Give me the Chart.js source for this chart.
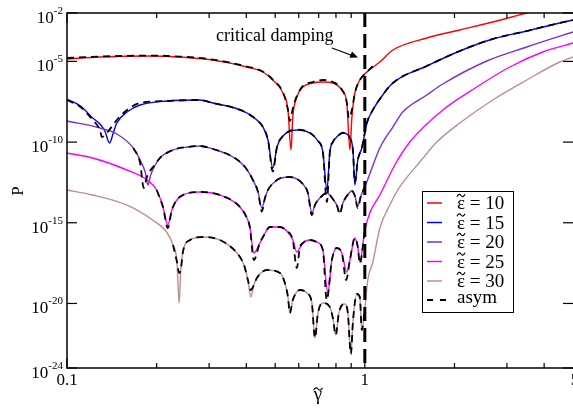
<!DOCTYPE html>
<html><head><meta charset="utf-8">
<script src="https://cdn.jsdelivr.net/npm/chart.js@4"></script>
<style>html,body{margin:0;padding:0;background:#fff;overflow:hidden}#wrap{width:573px;height:414px}</style>
</head><body><div id="wrap"><canvas id="c" width="573" height="414"></canvas></div>
<script>
// ---- tick definitions ----
const X_LABEL_VALUES = [0.1, 1, 5];
const X_LABELS = ['0.1', '1', '5'];
const X_MAJOR = [0.1, 1];
const X_MINOR = [0.2, 0.3, 0.4, 0.5, 0.6, 0.7, 0.8, 0.9, 2, 3, 4];
const Y_TICKS = [1e-2, 1e-5, 1e-10, 1e-15, 1e-20, 1e-24];
const Y_EXP = ['-2', '-5', '-10', '-15', '-20', '-24'];
const LEGEND_SYM = ['\u03b5', '\u03b5', '\u03b5', '\u03b5', '\u03b5', ''];
const LEGEND_LABELS = [' = 10', ' = 15', ' = 20', ' = 25', ' = 30', 'asym'];

// ---- eps = 10 ----
const E10_X = [0.1, 0.129, 0.190, 0.239, 0.309, 0.402, 0.455, 0.491, 0.531, 0.552, 0.565, 0.573, 0.591, 0.619, 0.669, 0.723, 0.781, 0.837, 0.870, 0.891, 0.905, 0.926, 0.962, 1.016, 1.123, 1.242, 1.615, 2.084, 2.689, 3.497, 4.511];
const E10_P = [1.41e-5, 1.87e-5, 2.16e-5, 1.87e-5, 1.22e-5, 4.5e-6, 2.21e-6, 7.05e-7, 1.1e-7, 9.74e-9, 3.24e-11, 3.59e-9, 6.22e-8, 2.6e-7, 4.59e-7, 5.3e-7, 4.59e-7, 1.69e-7, 2.64e-8, 3.24e-11, 3.59e-9, 1.1e-7, 7.05e-7, 2.21e-6, 9.18e-6, 5.09e-5, 2.82e-4, 8.83e-4, 2.77e-3, 1e-2, 3.13e-2];
const A10_X = [0.1, 0.129, 0.190, 0.239, 0.309, 0.402, 0.455, 0.491, 0.531, 0.552, 0.560, 0.573, 0.591, 0.619, 0.669, 0.723, 0.781, 0.837, 0.870, 0.884, 0.905, 0.926, 0.962, 1.016, 1.064];
const A10_P = [1.63e-5, 2.0e-5, 2.3e-5, 2.0e-5, 1.3e-5, 4.8e-6, 2.3e-6, 7.5e-7, 1.2e-7, 1.0e-8, 2.0e-9, 1.2e-8, 7.0e-8, 2.9e-7, 5.3e-7, 7.05e-7, 5.3e-7, 1.8e-7, 2.8e-8, 3.0e-9, 1.0e-8, 1.1e-7, 7.05e-7, 2.21e-6, 5e-6];

// ---- eps = 15 ----
const E15_X = [0.1, 0.111, 0.122, 0.129, 0.134, 0.139, 0.143, 0.147, 0.159, 0.176, 0.217, 0.279, 0.309, 0.366, 0.402, 0.434, 0.455, 0.473, 0.491, 0.507, 0.531, 0.591, 0.654, 0.696, 0.723, 0.746, 0.763, 0.781, 0.805, 0.844, 0.891, 0.912, 0.926, 0.947, 0.977, 1.016, 1.064, 1.123, 1.242, 1.615, 2.084, 2.689, 3.497, 4.511, 5.0];
const E15_P = [4.68e-8, 1.72e-8, 3.11e-9, 1.32e-9, 4.86e-10, 8.78e-11, 3.66e-10, 1.52e-9, 7.32e-9, 1.99e-8, 3.52e-8, 4.06e-8, 2.64e-8, 1.29e-8, 6.35e-9, 2.34e-9, 8.61e-10, 1.35e-10, 2.48e-12, 4.96e-11, 2.38e-10, 5.61e-10, 3.66e-10, 1.17e-10, 2.43e-11, 1.07e-13, 2.43e-11, 1.01e-10, 2.07e-10, 3.66e-10, 1.79e-10, 3.24e-11, 2.19e-13, 7.76e-12, 4.30e-11, 1.52e-9, 9.74e-9, 4.68e-8, 4.59e-7, 5.19e-6, 4.42e-5, 2.45e-4, 7.66e-4, 2.40e-3, 3.68e-3];
const A15_X = [0.1, 0.111, 0.122, 0.129, 0.131, 0.136, 0.147, 0.159, 0.176, 0.217, 0.279, 0.309, 0.366, 0.402, 0.434, 0.455, 0.473, 0.491, 0.507, 0.531, 0.591, 0.654, 0.696, 0.723, 0.746, 0.763, 0.781, 0.805, 0.844, 0.891, 0.912, 0.926, 0.947, 0.977, 1.016, 1.064, 1.123, 1.242, 1.615, 2.084, 2.689, 3.497, 4.511, 5.0];
const A15_P = [4.06e-8, 1.5e-8, 2.34e-9, 5.61e-10, 2.07e-10, 3.66e-10, 2.34e-9, 9.74e-9, 2.64e-8, 3.52e-8, 4.06e-8, 2.64e-8, 1.29e-8, 6.35e-9, 2.34e-9, 8.61e-10, 1.35e-10, 1.5e-12, 4.96e-11, 2.38e-10, 6e-10, 3.8e-10, 1.17e-10, 2.43e-11, 1.94e-14, 2.43e-11, 1.01e-10, 2.07e-10, 3.8e-10, 1.79e-10, 3.24e-11, 3e-13, 7.76e-12, 4.30e-11, 1.52e-9, 9.74e-9, 4.68e-8, 4.59e-7, 5.19e-6, 4.42e-5, 2.45e-4, 7.66e-4, 2.40e-3, 3.68e-3];

// ---- eps = 20 ----
const E20_X = [0.1, 0.129, 0.147, 0.167, 0.176, 0.183, 0.187, 0.191, 0.197, 0.205, 0.227, 0.253, 0.279, 0.309, 0.361, 0.396, 0.421, 0.438, 0.451, 0.462, 0.473, 0.507, 0.560, 0.619, 0.644, 0.664, 0.680, 0.706, 0.746, 0.781, 0.805, 0.824, 0.844, 0.870, 0.905, 0.926, 0.947, 0.970, 1.0, 1.039, 1.123, 1.242, 1.341, 1.615, 1.827, 2.567, 3.497, 5.0];
const E20_P = [2.03e-9, 7.46e-10, 3.17e-10, 4.30e-11, 7.76e-12, 1.40e-12, 2.19e-13, 9.12e-13, 3.30e-12, 1.03e-11, 3.24e-11, 4.96e-11, 5.73e-11, 3.73e-11, 1.19e-11, 2.86e-12, 4.47e-13, 8.07e-14, 8.22e-15, 3.43e-14, 1.07e-13, 4.47e-13, 6.86e-13, 2.53e-13, 7.00e-14, 4.03e-15, 1.26e-14, 3.43e-14, 7.00e-14, 2.97e-14, 1.26e-14, 4.65e-15, 1.68e-14, 4.56e-14, 9.31e-14, 4.56e-14, 1.09e-14, 4.56e-14, 1.65e-13, 1.05e-12, 4.30e-11, 8.61e-10, 7.32e-9, 8.28e-8, 3.98e-7, 1.06e-5, 7.82e-5, 6.65e-4];
const A20_X = [0.167, 0.176, 0.181, 0.185, 0.191, 0.197, 0.205, 0.227, 0.253, 0.279, 0.309, 0.361, 0.396, 0.421, 0.438, 0.451, 0.462, 0.473, 0.507, 0.560, 0.619, 0.644, 0.664, 0.680, 0.706, 0.746, 0.781, 0.805, 0.824, 0.844, 0.870, 0.905, 0.926, 0.947, 0.970, 1.0];
const A20_P = [4.3e-11, 5.06e-12, 1.43e-13, 5.94e-13, 1.86e-12, 3.8e-12, 1.03e-11, 3.24e-11, 4.96e-11, 5.73e-11, 3.73e-11, 1.19e-11, 2.86e-12, 4.47e-13, 8.07e-14, 5e-15, 3.43e-14, 1.07e-13, 4.47e-13, 6.86e-13, 2.53e-13, 7.0e-14, 3e-15, 1.26e-14, 3.43e-14, 7.0e-14, 2.97e-14, 1.26e-14, 3.5e-15, 1.68e-14, 4.56e-14, 9.31e-14, 4.56e-14, 8e-15, 4.56e-14, 1.65e-13];

// ---- eps = 25 ----
const E25_X = [0.1, 0.122, 0.159, 0.186, 0.200, 0.210, 0.218, 0.225, 0.239, 0.279, 0.326, 0.381, 0.402, 0.411, 0.424, 0.444, 0.455, 0.480, 0.519, 0.547, 0.573, 0.591, 0.605, 0.619, 0.654, 0.690, 0.723, 0.751, 0.775, 0.805, 0.837, 0.870, 0.891, 0.926, 0.947, 0.962, 1.0, 1.039, 1.123, 1.261, 1.416, 1.827, 2.376, 3.067, 3.956, 5.0];
const E25_P = [2.11e-11, 1.03e-11, 1.86e-12, 4.47e-13, 1.07e-13, 9.48e-15, 7.27e-16, 6.18e-15, 3.95e-14, 8.07e-14, 5.26e-14, 9.48e-15, 1.97e-15, 5.47e-16, 1.34e-17, 5.57e-17, 1.31e-16, 5.47e-16, 5.47e-16, 3.09e-16, 8.55e-17, 1.54e-17, 2.73e-17, 5.57e-17, 8.55e-17, 6.43e-17, 2.05e-17, 4.45e-20, 4.93e-18, 2.73e-17, 1.34e-17, 8.89e-19, 4.93e-18, 1.14e-16, 3.15e-17, 3.71e-18, 3.56e-16, 4.03e-15, 5.26e-14, 3.8e-12, 1.01e-10, 9.74e-9, 2.6e-7, 4.5e-6, 3.83e-5, 1.38e-4];
const A25_X = [0.200, 0.210, 0.218, 0.225, 0.239, 0.279, 0.326, 0.381, 0.402, 0.411, 0.424, 0.444, 0.455, 0.480, 0.519, 0.547, 0.573, 0.591, 0.605, 0.619, 0.654, 0.690, 0.723, 0.745, 0.775, 0.805, 0.837, 0.866, 0.891, 0.926, 0.947, 0.962, 1.0];
const A25_P = [1.07e-13, 9.48e-15, 4.74e-16, 6.18e-15, 3.95e-14, 8.07e-14, 5.26e-14, 9.48e-15, 1.97e-15, 5.47e-16, 4.93e-18, 5.57e-17, 1.31e-16, 5.47e-16, 5.47e-16, 3.09e-16, 8.55e-17, 1.57e-18, 2.73e-17, 5.57e-17, 8.55e-17, 6.43e-17, 2.05e-17, 1.64e-20, 4.93e-18, 2.73e-17, 1.34e-17, 2.84e-19, 4.93e-18, 1.14e-16, 3.15e-17, 3.0e-18, 3.56e-16];

// ---- eps = 30 ----
const E30_X = [0.1, 0.122, 0.159, 0.194, 0.217, 0.227, 0.234, 0.238, 0.241, 0.245, 0.259, 0.286, 0.326, 0.372, 0.393, 0.405, 0.414, 0.424, 0.434, 0.469, 0.519, 0.539, 0.552, 0.560, 0.573, 0.605, 0.639, 0.664, 0.680, 0.696, 0.723, 0.763, 0.781, 0.799, 0.818, 0.857, 0.877, 0.898, 0.912, 0.940, 0.962, 0.977, 1.0, 1.023, 1.064, 1.123, 1.213, 1.310, 1.530, 1.744, 2.084, 2.689, 3.497, 4.511, 5.0];
const E30_P = [1.07e-13, 5.26e-14, 1.26e-14, 1.48e-15, 2.32e-16, 4.19e-17, 3.71e-18, 1.07e-20, 1.18e-18, 1.54e-17, 8.55e-17, 1.31e-16, 8.55e-17, 1.34e-17, 2.42e-18, 2.84e-19, 2.51e-20, 1.39e-19, 3.78e-19, 1.18e-18, 7.71e-19, 1.85e-19, 2.51e-20, 2.56e-21, 1.64e-20, 6.82e-20, 4.45e-20, 1.07e-20, 7.23e-23, 2.56e-21, 1.07e-20, 6.03e-21, 1.25e-21, 1.11e-22, 2.56e-21, 9.25e-21, 2.56e-21, 7.36e-24, 7.08e-22, 3.85e-20, 2.51e-20, 2.26e-22, 3.93e-21, 2.84e-19, 3.71e-18, 4.74e-16, 1.26e-14, 1.65e-13, 5.83e-12, 1.01e-10, 1.52e-9, 4.06e-8, 7.05e-7, 9.18e-6, 1.87e-5];
const A30_X = [0.227, 0.234, 0.238, 0.241, 0.245, 0.259, 0.286, 0.326, 0.372, 0.393, 0.405, 0.414, 0.424, 0.434, 0.469, 0.519, 0.539, 0.552, 0.560, 0.573, 0.605, 0.639, 0.664, 0.680, 0.696, 0.723, 0.763, 0.781, 0.799, 0.818, 0.857, 0.877, 0.898, 0.912, 0.940, 0.962, 0.977, 1.0];
const A30_P = [4.19e-17, 3.71e-18, 7.71e-19, 1.18e-18, 1.54e-17, 8.55e-17, 1.31e-16, 8.55e-17, 1.34e-17, 2.42e-18, 2.84e-19, 6.82e-20, 1.39e-19, 3.78e-19, 1.18e-18, 7.71e-19, 1.85e-19, 2.51e-20, 2.56e-21, 1.64e-20, 6.82e-20, 4.45e-20, 1.07e-20, 7.23e-23, 2.56e-21, 1.07e-20, 6.03e-21, 1.25e-21, 1.11e-22, 2.56e-21, 9.25e-21, 2.56e-21, 7.36e-24, 7.08e-22, 3.85e-20, 2.51e-20, 2.26e-22, 3.93e-21];

// ---- critical damping line ----
const CRIT_X = [1, 1];
const CRIT_P = [1e-2, 1e-24];

const COLORS = ['#ff0000', '#0000ff', '#7b2fd0', '#ff00ff', '#bc8f8f'];
const FONT = '"Liberation Serif", "DejaVu Serif", serif';

function pts(xs, ps) { return xs.map((v, i) => ({ x: v, y: ps[i] })); }
function solid(xs, ps, c) { return { data: pts(xs, ps), borderColor: c, borderWidth: 1.4, order: 3, pointRadius: 0, fill: false }; }
function dashed(xs, ps) { return { data: pts(xs, ps), borderColor: '#000', borderWidth: 1.8, borderDash: [7, 5], order: 2, pointRadius: 0, fill: false }; }

const datasets = [
  solid(E30_X, E30_P, COLORS[4]), solid(E25_X, E25_P, COLORS[3]), solid(E20_X, E20_P, COLORS[2]),
  solid(E15_X, E15_P, COLORS[1]), solid(E10_X, E10_P, COLORS[0]),
  dashed(A10_X, A10_P), dashed(A15_X, A15_P), dashed(A20_X, A20_P), dashed(A25_X, A25_P), dashed(A30_X, A30_P),
  { data: pts(CRIT_X, CRIT_P), borderColor: '#000', borderWidth: 3, borderDash: [14, 7], order: 1, pointRadius: 0, cubicInterpolationMode: 'default', tension: 0 }
];

function line(ctx, x1, y1, x2, y2) { ctx.beginPath(); ctx.moveTo(x1, y1); ctx.lineTo(x2, y2); ctx.stroke(); }
function tildeOver(ctx, sym, x, base, size, ty, half) {
  // draws a symbol and a wavy tilde accent centred above it; returns symbol width
  ctx.font = size + 'px ' + FONT;
  const w = ctx.measureText(sym).width;
  ctx.textAlign = 'left';
  ctx.fillText(sym, x, base);
  const cx = x + w / 2;
  ctx.save();
  ctx.strokeStyle = '#000'; ctx.lineWidth = 1.1; ctx.setLineDash([]);
  ctx.beginPath();
  ctx.moveTo(cx - half, ty + 1.2);
  ctx.bezierCurveTo(cx - half * 0.6, ty - 2, cx - half * 0.25, ty - 1.5, cx, ty);
  ctx.bezierCurveTo(cx + half * 0.25, ty + 1.5, cx + half * 0.6, ty + 2, cx + half, ty - 1.2);
  ctx.stroke();
  ctx.restore();
  return w;
}

const frame = {
  id: 'frame',
  afterDatasetsDraw(chart) {
    const { ctx, chartArea: a, scales: { x, y } } = chart;
    ctx.save();
    ctx.strokeStyle = '#000'; ctx.fillStyle = '#000';
    ctx.lineWidth = 1.5;
    line(ctx, a.left, a.top, a.right + 2, a.top);
    line(ctx, a.left, a.top - 0.75, a.left, a.bottom + 0.75);
    line(ctx, a.left, a.bottom, a.right + 2, a.bottom);
    ctx.lineWidth = 1.2;
    X_MAJOR.forEach(v => { const p = x.getPixelForValue(v); line(ctx, p, a.bottom, p, a.bottom - 10); line(ctx, p, a.top, p, a.top + 10); });
    X_MINOR.forEach(v => { const p = x.getPixelForValue(v); line(ctx, p, a.bottom, p, a.bottom - 5); line(ctx, p, a.top, p, a.top + 5); });
    Y_TICKS.forEach(v => { const p = y.getPixelForValue(v); line(ctx, a.left, p, a.left + 10, p); line(ctx, a.right, p, a.right - 10, p); });
    // y labels
    ctx.textAlign = 'right'; ctx.textBaseline = 'alphabetic';
    Y_TICKS.forEach((v, i) => {
      const p = y.getPixelForValue(v);
      ctx.font = '11px ' + FONT;
      ctx.fillText(Y_EXP[i], 63, p + 1);
      const w = ctx.measureText(Y_EXP[i]).width;
      ctx.font = '17px ' + FONT;
      ctx.fillText('10', 63 - w, p + 10);
    });
    // x labels
    ctx.textAlign = 'center'; ctx.font = '17px ' + FONT;
    X_LABEL_VALUES.forEach((v, i) => { ctx.fillText(X_LABELS[i], x.getPixelForValue(v) + (v === 5 ? 2 : 0), 385); });
    // axis titles
    ctx.font = '19px ' + FONT;
    const gw = ctx.measureText('\u03b3').width;
    tildeOver(ctx, '\u03b3', 318 - gw / 2, 400, 19, 389, 4.5);
    ctx.save(); ctx.translate(23, 191); ctx.rotate(-Math.PI / 2); ctx.font = '17px ' + FONT; ctx.textAlign = 'center'; ctx.fillText('P', 0, 0); ctx.restore();
    // annotation
    ctx.font = '18px ' + FONT; ctx.textAlign = 'left';
    ctx.fillText('critical damping', 216, 41);
    ctx.lineWidth = 1.3;
    line(ctx, 332, 48, 352, 55.5);
    ctx.beginPath(); ctx.moveTo(358, 57.5); ctx.lineTo(349.5, 57.8); ctx.lineTo(352, 51.5); ctx.closePath(); ctx.fill();
    // legend
    ctx.lineWidth = 1; ctx.fillStyle = '#fff';
    ctx.fillRect(422, 191, 91, 121);
    ctx.strokeRect(422.5, 191.5, 91, 121);
    ctx.fillStyle = '#000';
    const ys = [203, 222.5, 242, 261.5, 281, 300];
    LEGEND_LABELS.forEach((t, i) => {
      const cy = ys[i];
      ctx.strokeStyle = i < 5 ? COLORS[i] : '#000';
      ctx.lineWidth = i < 5 ? 1.5 : 2;
      ctx.setLineDash(i < 5 ? [] : [6, 7]);
      line(ctx, 427, cy, i < 5 ? 442 : 447, cy);
      ctx.setLineDash([]);
      let tx = 457;
      if (LEGEND_SYM[i]) { tx += tildeOver(ctx, LEGEND_SYM[i], tx, cy + 6, 19, cy - 7.5, 4); }
      ctx.font = '19px ' + FONT; ctx.textAlign = 'left';
      ctx.fillText(t, tx, i < 5 ? cy + 6 : cy + 3);
    });
    ctx.restore();
  }
};

new Chart(document.getElementById('c'), {
  type: 'line',
  data: { datasets },
  options: {
    responsive: false, animation: false, devicePixelRatio: 1,
    layout: { padding: { left: 67, top: 13, right: 0, bottom: 46 } },
    plugins: { legend: { display: false }, tooltip: { enabled: false } },
    elements: { point: { radius: 0 }, line: { cubicInterpolationMode: 'monotone' } },
    scales: {
      x: { type: 'logarithmic', min: 0.1, max: 5, display: false },
      y: { type: 'logarithmic', min: 1e-24, max: 1e-2, display: false }
    }
  },
  plugins: [frame]
});
</script></body></html>
